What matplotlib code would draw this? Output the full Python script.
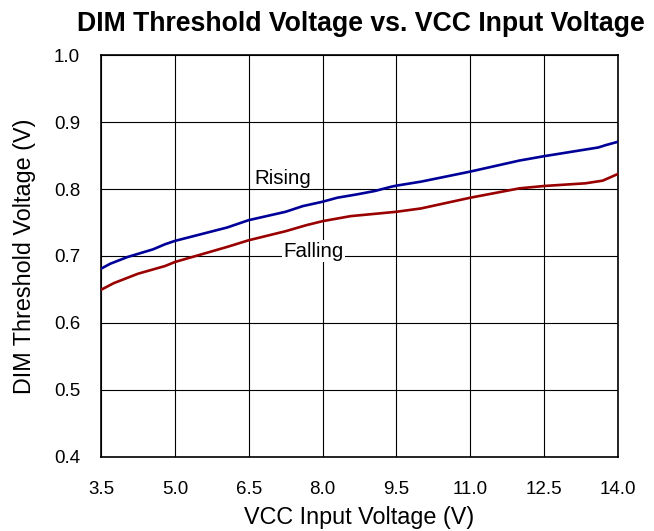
import matplotlib
matplotlib.use('Agg')
import matplotlib.pyplot as plt

plt.rcParams['font.family'] = ['Liberation Sans', 'DejaVu Sans']

# values
rising_x = [3.5, 3.69, 4.04, 4.56, 4.8, 5.0, 6.06, 6.5, 7.25, 7.6, 8.0, 8.3,
            8.7, 9.06, 9.4, 9.5, 10.0, 11.0, 12.0, 12.5, 13.6, 13.75, 14.0]
rising_y = [0.681, 0.6885, 0.6985, 0.71, 0.7175, 0.7225, 0.7425, 0.7535,
            0.766, 0.7745, 0.781, 0.787, 0.792, 0.797, 0.8035, 0.805, 0.811,
            0.826, 0.8425, 0.849, 0.862, 0.8655, 0.8705]
falling_x = [3.5, 3.76, 4.25, 4.8, 5.0, 6.06, 6.5, 7.25, 7.67, 8.0, 8.57,
             9.5, 10.0, 11.0, 12.0, 12.5, 13.34, 13.69, 14.0]
falling_y = [0.6495, 0.6595, 0.6735, 0.685, 0.691, 0.7135, 0.7235, 0.737,
             0.746, 0.752, 0.7595, 0.766, 0.771, 0.787, 0.801, 0.8045,
             0.8085, 0.8125, 0.8225]
x_ticks = [3.5, 5.0, 6.5, 8.0, 9.5, 11.0, 12.5, 14.0]
y_ticks = [0.4, 0.5, 0.6, 0.7, 0.8, 0.9, 1.0]

fig = plt.figure(figsize=(6.54, 5.31), dpi=100)
ax = fig.add_axes([0.1544, 0.1394, 0.7906, 0.757])

ax.plot(rising_x, rising_y, color='#000099', lw=1.9, zorder=3)
ax.plot(falling_x, falling_y, color='#990000', lw=1.9, zorder=3)

ax.set_xlim(3.5, 14.0)
ax.set_ylim(0.4, 1.0)
ax.set_xticks(x_ticks)
ax.set_yticks(y_ticks)
ax.set_xticklabels(['%.1f' % v for v in x_ticks])
ax.set_yticklabels(['%.1f' % v for v in y_ticks])
ax.tick_params(length=0, labelsize=13.5, pad=17)
ax.tick_params(axis='y', pad=15)
ax.grid(True, color='black', lw=0.8)
for s in ax.spines.values():
    s.set_linewidth(1.2)

# curve labels, white box hides the grid line behind them
box = dict(facecolor='white', edgecolor='none', pad=1)
ax.text(7.2, 0.816, 'Rising', fontsize=14.8, ha='center', va='center',
        bbox=box, zorder=2)
ax.text(7.81, 0.707, 'Falling', fontsize=14.8, ha='center', va='center',
        bbox=box, zorder=2)

ax.set_xlabel('VCC Input Voltage (V)', fontsize=16.8, labelpad=6)
ax.set_ylabel('DIM Threshold Voltage (V)', fontsize=16.8, labelpad=13)
fig.text(0.552, 0.955, 'DIM Threshold Voltage vs. VCC Input Voltage',
         fontsize=19.2, fontweight='bold', ha='center', va='center')

fig.savefig('out.png', dpi=100)
